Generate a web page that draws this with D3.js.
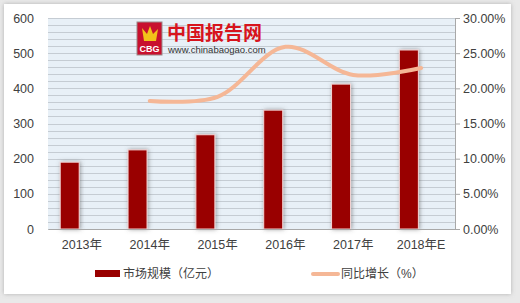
<!DOCTYPE html>
<html>
<head>
<meta charset="utf-8">
<script src="https://cdn.jsdelivr.net/npm/d3@7"></script>
<style>
  body { margin: 0; background: #e9e9e9; }
  svg text { font-family: "Liberation Sans", "Noto Sans CJK SC", sans-serif; }
</style>
</head>
<body>
<div id="chart"></div>
<script>
// data
const years = ["2013年", "2014年", "2015年", "2016年", "2017年", "2018年E"];
const marketSize = [190, 225, 268, 338, 412, 509];        // 亿元
const growthYears = ["2014年", "2015年", "2016年", "2017年", "2018年E"];
const growthRate = [18.2, 18.8, 25.9, 21.9, 22.9];        // %
const leftTicks = [0, 100, 200, 300, 400, 500, 600];
const rightTicks = [0, 5, 10, 15, 20, 25, 30];

const W = 520, H = 303;
const margin = { top: 18, right: 65, bottom: 74, left: 48 };
const width = W - margin.left - margin.right;
const height = H - margin.top - margin.bottom;

const svg = d3.select("#chart").append("svg")
    .attr("width", W)
    .attr("height", H);

const defs = svg.append("defs");

let cardShadow = defs.append("filter").attr("id", "cardShadow")
    .attr("x", "-5%").attr("y", "-5%").attr("width", "110%").attr("height", "110%");
cardShadow.append("feDropShadow")
    .attr("dx", 0).attr("dy", 0).attr("stdDeviation", 2)
    .attr("flood-color", "#888").attr("flood-opacity", 0.6);

let barShadow = defs.append("filter").attr("id", "barShadow")
    .attr("x", "-50%").attr("y", "-10%").attr("width", "200%").attr("height", "120%");
barShadow.append("feDropShadow")
    .attr("dx", 1).attr("dy", 0).attr("stdDeviation", 2.2)
    .attr("flood-color", "#555").attr("flood-opacity", 0.55);

// white card
svg.append("rect")
    .attr("x", 4).attr("y", 4)
    .attr("width", 507).attr("height", 290)
    .attr("fill", "#fff")
    .attr("filter", "url(#cardShadow)");

const g = svg.append("g")
    .attr("transform", "translate(" + margin.left + "," + margin.top + ")");

const x = d3.scaleBand().domain(years).range([0, width]).padding(0);
const y = d3.scaleLinear().domain([0, 600]).range([height, 0]);
const y2 = d3.scaleLinear().domain([0, 30]).range([height, 0]);

// plot background + striped minor grid
g.append("rect")
    .attr("width", width).attr("height", height)
    .attr("fill", "#e8f0f7");

g.append("g")
    .selectAll("line")
    .data(d3.range(0, 601, 20))
    .join("line")
    .attr("x1", 0).attr("x2", width)
    .attr("y1", d => Math.round(y(d)) + 0.5)
    .attr("y2", d => Math.round(y(d)) + 0.5)
    .attr("stroke", "#c5ccd3")
    .attr("stroke-width", 1);

// watermark logo
const logo = g.append("g").attr("transform", "translate(" + (137 - margin.left) + "," + (22 - margin.top) + ")");
logo.append("rect")
    .attr("width", 25).attr("height", 33)
    .attr("fill", "#c8102e").attr("stroke", "#9a8a8a").attr("stroke-width", 1);
logo.append("path")
    .attr("d", "M5,6 L10,12 L13,4 L16,12 L21,7 L19,19 L7,19 Z")
    .attr("fill", "#f2c21a");
logo.append("text")
    .attr("x", 12.5).attr("y", 30)
    .attr("text-anchor", "middle")
    .attr("font-size", 9).attr("font-weight", "bold")
    .attr("fill", "#fff")
    .text("CBG");
logo.append("text")
    .attr("x", 30).attr("y", 18)
    .attr("font-size", 19).attr("font-weight", "bold")
    .attr("fill", "#d7141d")
    .attr("font-family", "Noto Sans CJK SC")
    .text("中国报告网");
logo.append("text")
    .attr("x", 31).attr("y", 31)
    .attr("font-size", 9.5)
    .attr("fill", "#333")
    .text("www.chinabaogao.com");

// bars
g.append("g")
    .selectAll("rect")
    .data(marketSize)
    .join("rect")
    .attr("x", (d, i) => x(years[i]) + x.bandwidth() * 0.18)
    .attr("width", x.bandwidth() * 0.28)
    .attr("y", d => y(d))
    .attr("height", d => height - y(d))
    .attr("fill", "#990000")
    .attr("stroke", "#f3d6d6")
    .attr("stroke-width", 1)
    .attr("filter", "url(#barShadow)");

// growth line
const line = d3.line()
    .curve(d3.curveCatmullRom.alpha(0.5))
    .x((d, i) => x(growthYears[i]) + x.bandwidth() / 2)
    .y(d => y2(d));

g.append("path")
    .datum(growthRate)
    .attr("d", line)
    .attr("fill", "none")
    .attr("stroke", "#f5b796")
    .attr("stroke-width", 4)
    .attr("stroke-linecap", "round");

// axes
const yAxis = d3.axisLeft(y).tickValues(leftTicks).tickSize(0).tickPadding(14);
g.append("g").attr("class", "y-axis").call(yAxis)
    .call(a => a.select(".domain").remove());

const y2Axis = d3.axisRight(y2).tickValues(rightTicks).tickSize(5).tickPadding(3)
    .tickFormat(d => d.toFixed(2) + "%");
g.append("g").attr("class", "y2-axis")
    .attr("transform", "translate(" + width + ",0)")
    .call(y2Axis);

const xAxis = d3.axisBottom(x).tickSize(0).tickPadding(11);
g.append("g").attr("class", "x-axis")
    .attr("transform", "translate(0," + height + ")")
    .call(xAxis);

svg.selectAll(".domain, .tick line").attr("stroke", "#a8a8a8");
svg.selectAll(".tick text").attr("font-size", 12.5).attr("fill", "#404040");

// legend
const legend = svg.append("g");
legend.append("rect")
    .attr("x", 95).attr("y", 270)
    .attr("width", 25).attr("height", 7)
    .attr("fill", "#990000");
legend.append("text")
    .attr("x", 123).attr("y", 278)
    .attr("font-size", 12).attr("fill", "#404040")
    .text("市场规模（亿元）");
legend.append("line")
    .attr("x1", 313).attr("x2", 338)
    .attr("y1", 274).attr("y2", 274)
    .attr("stroke", "#f5b796").attr("stroke-width", 4)
    .attr("stroke-linecap", "round");
legend.append("text")
    .attr("x", 341).attr("y", 278)
    .attr("font-size", 12).attr("fill", "#404040")
    .text("同比增长（%）");
</script>
</body>
</html>
